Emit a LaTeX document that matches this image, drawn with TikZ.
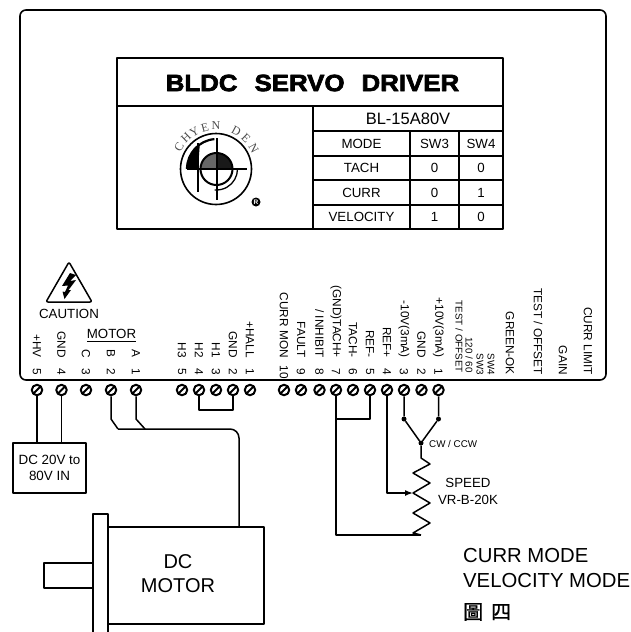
\documentclass[tikz,border=0pt]{standalone}
\usepackage{fontspec}
\usetikzlibrary{arrows.meta}
\setmainfont{Liberation Sans}
\newfontfamily\titlefont[FakeStretch=1.1,FakeBold=3]{Liberation Sans Bold}
\newfontfamily\cjkfont[FakeBold=1]{Noto Sans CJK TC}
\newfontfamily\logofont{Liberation Serif}
\newcommand{\fsize}[1]{\fontsize{#1}{#1}\selectfont}
\tikzset{
  wire/.style={line width=1.5pt},
  box/.style={line width=1.6pt},
  txt/.style={inner sep=0pt,font=\fsize{13.3}},
  pinlabel/.style={inner sep=0pt,rotate=-90,anchor=east,font=\fsize{11.8}},
  smalllabel/.style={inner sep=0pt,rotate=-90,anchor=east,font=\fsize{9.8}},
  pinnum/.style={inner sep=0pt,rotate=-90,font=\fsize{11.8}},
  terminal/.style={circle,draw,fill=white,line width=2pt,minimum size=10.5pt,inner sep=0pt,
    path picture={\draw[line width=2pt] (path picture bounding box.south west) -- (path picture bounding box.north east);}},
  dot/.style={circle,fill,inner sep=0pt,minimum size=5pt},
}
\begin{document}
\begin{tikzpicture}[x=1pt,y=-1pt,line join=round]
  \useasboundingbox (0,0) rectangle (630,632);
  % driver case
  \draw[line width=1.6pt,rounded corners=6pt] (20,10) rectangle (606,380);

  % name plate
  \draw[box] (117,58) rectangle (503,229);
  \draw[box] (117,106) -- (503,106);
  \draw[box] (313,106) -- (313,229);
  \draw[box] (313,131) -- (503,131);
  \draw[box] (313,156) -- (503,156);
  \draw[box] (313,180) -- (503,180);
  \draw[box] (313,205) -- (503,205);
  \draw[box] (410,131) -- (410,229);
  \draw[box] (459,131) -- (459,229);
  \node[inner sep=0pt,font=\titlefont\fsize{23.5}] (title) at (312.5,83) {BLDC\hspace{17pt}SERVO\hspace{17pt}DRIVER};
  \node[txt,font=\fsize{16.5}] (model) at (408,119) {BL-15A80V};
  \foreach \y/\name/\mode/\swa/\swb in {144/head/MODE/SW3/SW4,168/tach/TACH/0/0,192.5/curr/CURR/0/1,217/velo/VELOCITY/1/0}{
    \node[txt] (\name mode) at (361.5,\y) {\mode};
    \node[txt] (\name swa) at (434.5,\y) {\swa};
    \node[txt] (\name swb) at (481,\y) {\swb};
  }

  % logo
  \draw[line width=1.6pt] (216,169) circle [radius=35.5pt];
  \fill[black!60] (200.5,169) arc[start angle=180,end angle=90,radius=16pt] -- (216.5,169) -- cycle;
  \fill[black!90] (232.5,169) arc[start angle=0,end angle=90,radius=16pt] -- (216.5,169) -- cycle;
  \draw[line width=2pt] (216.5,169) circle [radius=16pt];
  \fill (187,169) arc[start angle=180,end angle=125,radius=30pt] -- (198,169) -- cycle;
  \draw[line width=2.2pt] (187,169) arc[start angle=180,end angle=95,radius=30pt];
  \draw[line width=2.6pt] (198,143) -- (198,192);
  \draw[line width=2pt] (217,138) -- (217,200);
  \draw[line width=2pt] (187,169) -- (247,169);
  \draw[line width=1.3pt] (237.5,169) arc[start angle=0,end angle=-95,radius=21pt];
  \foreach \ang/\ch/\idx in {149/C/1,134/H/2,120/Y/3,105/E/4,90/N/5,62/D/6,46/E/7,29/N/8}{
    \node[inner sep=0pt,rotate=\ang-90,text=black!70,font=\logofont\fsize{12}] (logo\idx) at ({216+43*cos(\ang)},{169-43*sin(\ang)}) {\ch};
  }
  \node[circle,fill,inner sep=0pt,minimum size=9pt,text=white,font=\bfseries\fsize{6.5}] (reg) at (256,202) {R};

  % caution sign
  \draw[line width=1.5pt,rounded corners=2pt] (69,262) -- (92,302) -- (46,302) -- cycle;
  \fill (70,273) -- (62,286) -- (68,285.5) -- (65,292) -- (62.5,291.5) -- (64.5,299) -- (71,290) -- (68.5,290) -- (76,280) -- (70,281) -- (76,275) -- cycle;
  \node[txt] (caution) at (69,314) {CAUTION};
  \node[txt] (motorlbl) at (111.5,334) {MOTOR};
  \draw[line width=1pt] (87,341) -- (136,341);

  % terminals and their labels
  \foreach \x/\name/\num/\lbl in {37/hv/5/+HV,61.5/gnd/4/GND,86/mc/3/C,111/mb/2/B,136/ma/1/A,
    182/hc/5/H3,199/hb/4/H2,216/ha/3/H1,233/hg/2/GND,250/hp/1/+HALL,
    284/cm/10/CURR MON,301/ft/9/FAULT,319.5/inh/8/{/ INHIBIT},336/tp/7/(GND)TACH+,353/tm/6/TACH-,
    370/rm/5/REF-,387/rp/4/REF+,404/vm/3/-10V(3mA),421.5/vg/2/GND,438.5/vp/1/+10V(3mA)}{
    \node[terminal] (\name) at (\x,390) {};
    \node[pinnum] (\name num) at (\x,372) {\num};
    \node[pinlabel] (\name lbl) at (\x,358) {\lbl};
  }
  \foreach \x/\y/\name/\lbl in {459/373/ta/{TEST / OFFSET},469/373/tb/{120 / 60},480/375/tc/SW3,491/375/td/SW4}{
    \node[smalllabel] (\name) at (\x,\y) {\lbl};
  }
  \foreach \x/\name/\lbl in {510/green/GREEN-OK,538/offs/{TEST / OFFSET},563/gain/GAIN,588/limit/CURR LIMIT}{
    \node[pinlabel] (\name) at (\x,375) {\lbl};
  }

  % supply
  \node[draw,box,minimum width=73pt,minimum height=50pt,inner sep=0pt,align=center,font=\fsize{13.4},
    text depth=0pt] (supply) at (49.5,468) {DC 20V to\\[3pt]80V IN};
  \draw[wire] (hv.south) -- (hv.south |- supply.north);
  \draw[wire] (gnd.south) -- (gnd.south |- supply.north);

  % motor
  \draw[box] (44,563) rectangle (93,588);
  \draw[box] (108,527) rectangle (264,624);
  \draw[box] (93,632) -- (93,514) -- (108,514) -- (108,632);
  \node[inner sep=0pt,align=center,font=\fsize{20}] (motor) at (178,574) {DC\\[4pt]MOTOR};
  \coordinate (motortop) at (239,527);
  \draw[wire] (mb.south) -- (111,419) -- (118,429);
  \draw[wire] (ma.south) -- (136,419) -- (145,429);
  \draw[wire,rounded corners=9pt] (118,429) -- (239,429) -- (motortop);
  \draw[wire] (hb.south) |- (hg.south |- 0,410) -- (hg.south);

  % speed pot
  \node[dot] (dotvm) at (404,419) {};
  \node[dot] (dotvp) at (438.5,419) {};
  \node[dot] (dotcw) at (421,443) {};
  \coordinate (rtop) at (421,458);
  \coordinate (wiper) at (413,493);
  \coordinate (rbot) at (421,535);
  \draw[wire] (vm.south) -- (dotvm) -- (dotcw) -- (dotvp) -- (vp.south);
  \draw[wire] (dotcw) -- (rtop) -- (430,464) -- (413,473) -- (430,483) -- (wiper) -- (430,503) -- (413,513) -- (430,523) -- (413,533) -- (rbot);
  \draw[wire,-{Latex[length=8pt,width=6pt]}] (rp.south) |- (wiper);
  \draw[wire] (tp.south) |- (rbot);
  \draw[wire] (rm.south) |- (tp.south |- 0,419);
  \node[inner sep=0pt,anchor=west,font=\fsize{9.8}] (cwlbl) at (429,443.5) {CW / CCW};
  \node[txt] (speed) at (468,483) {SPEED};
  \node[txt] (vrlbl) at (468,500) {VR-B-20K};

  % mode notes
  \node[inner sep=0pt,anchor=west,font=\fsize{20.3}] (currmode) at (463,556) {CURR MODE};
  \node[inner sep=0pt,anchor=west,font=\fsize{20.3}] (velomode) at (463,581) {VELOCITY MODE};
  \node[inner sep=0pt,anchor=west,font=\cjkfont\fsize{20}] (figlbl) at (463,612) {圖\hspace{8pt}四};
\end{tikzpicture}
\end{document}
